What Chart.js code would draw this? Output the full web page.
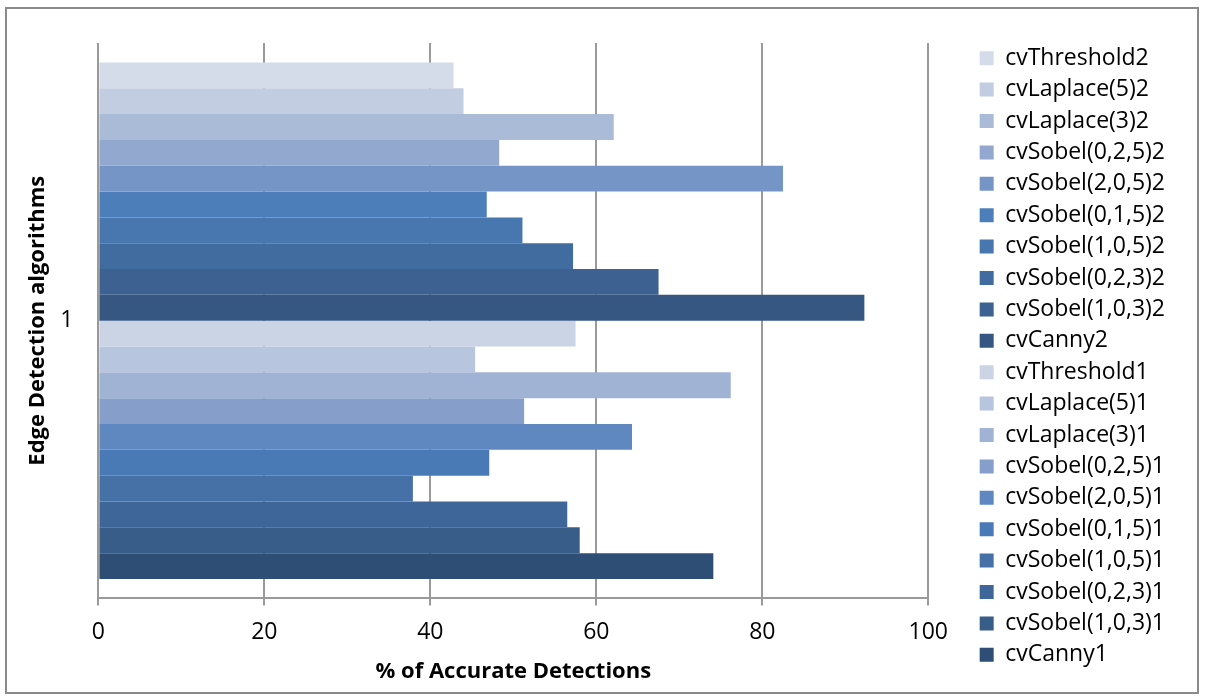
<!DOCTYPE html>
<html>
<head>
<meta charset="utf-8">
<script src="https://cdn.jsdelivr.net/npm/chart.js@4"></script>
<style>
  html, body { margin: 0; padding: 0; background: #fff; }
  #wrap { width: 1205px; height: 700px; }
</style>
</head>
<body>
<div id="wrap"><canvas id="chart" width="1205" height="700"></canvas></div>
<script>
const categories = ['1'];

const seriesNames = [
  'cvThreshold2', 'cvLaplace(5)2', 'cvLaplace(3)2', 'cvSobel(0,2,5)2', 'cvSobel(2,0,5)2',
  'cvSobel(0,1,5)2', 'cvSobel(1,0,5)2', 'cvSobel(0,2,3)2', 'cvSobel(1,0,3)2', 'cvCanny2',
  'cvThreshold1', 'cvLaplace(5)1', 'cvLaplace(3)1', 'cvSobel(0,2,5)1', 'cvSobel(2,0,5)1',
  'cvSobel(0,1,5)1', 'cvSobel(1,0,5)1', 'cvSobel(0,2,3)1', 'cvSobel(1,0,3)1', 'cvCanny1',
];

const seriesValues = [
  42.8, 44.0, 62.1, 48.3, 82.5,
  46.8, 51.1, 57.2, 67.5, 92.3,
  57.5, 45.4, 76.2, 51.3, 64.3,
  47.1, 37.9, 56.5, 58.0, 74.1,
];

const xTicks = [0, 20, 40, 60, 80, 100];

const seriesColors = [
  '#d5dce9', '#c2cde1', '#aabbd8', '#92a8cf', '#7595c6',
  '#4c7fba', '#4877b0', '#416ca0', '#3d6190', '#355781',
  '#cad4e5', '#b7c5df', '#a0b3d5', '#859fca', '#5e88bf',
  '#4a7ab5', '#4571a6', '#3e6698', '#385d89', '#2f4e76',
];

const gridGray = '#9a9a9a';
const legendShift = { x: 43, y: -9 };

Chart.defaults.font.family = '"Open Sans", sans-serif';
Chart.defaults.color = '#000';

// frame round the whole picture
const framePlugin = {
  id: 'frame',
  beforeDraw(chart) {
    const ctx = chart.ctx;
    ctx.save();
    ctx.fillStyle = '#fff';
    ctx.fillRect(0, 0, chart.width, chart.height);
    ctx.strokeStyle = '#8a8a8a';
    ctx.lineWidth = 2;
    ctx.strokeRect(6, 8, 1192, 685);
    ctx.restore();
  },
};

// leave a gap between the plot and the legend
const legendGapPlugin = {
  id: 'legendGap',
  afterInit(chart) {
    const legend = chart.legend;
    const fit = legend.fit;
    legend.fit = function () {
      fit.call(this);
      this.width += legendShift.x;
    };
    const draw = legend.draw;
    legend.draw = function () {
      const ctx = this.ctx;
      ctx.save();
      ctx.translate(legendShift.x, legendShift.y);
      draw.apply(this, arguments);
      ctx.restore();
    };
  },
};

const datasets = seriesNames.map((name, i) => ({
  label: name,
  data: [seriesValues[i]],
  backgroundColor: seriesColors[i],
  borderColor: seriesColors[i],
  borderWidth: 0,
  barPercentage: 1,
  categoryPercentage: 0.93,
}));

new Chart(document.getElementById('chart'), {
  type: 'bar',
  data: { labels: categories, datasets: datasets },
  plugins: [framePlugin, legendGapPlugin],
  options: {
    indexAxis: 'y',
    responsive: false,
    animation: false,
    layout: { padding: { top: 43, left: 8, right: 30, bottom: 12 } },
    plugins: {
      tooltip: { enabled: false },
      legend: {
        position: 'right',
        align: 'center',
        labels: {
          boxWidth: 14,
          boxHeight: 14,
          padding: 8.4,
          color: '#000',
          font: { size: 23 },
        },
      },
    },
    scales: {
      x: {
        min: 0,
        max: 100,
        afterBuildTicks(scale) {
          scale.ticks = xTicks.map(v => ({ value: v }));
        },
        grid: {
          color: gridGray,
          lineWidth: 2,
          drawTicks: true,
          tickLength: 7,
          tickColor: gridGray,
        },
        border: { display: true, color: gridGray, width: 2 },
        ticks: { font: { size: 23 }, padding: 13, color: '#000' },
        title: {
          display: true,
          text: '% of Accurate Detections',
          font: { size: 22, weight: 'bold' },
          padding: { top: 0, bottom: 2.6 },
          color: '#000',
        },
      },
      y: {
        grid: { display: false, drawTicks: false },
        border: { display: false },
        ticks: { font: { size: 23 }, padding: 25, color: '#000' },
        title: {
          display: true,
          text: 'Edge Detection algorithms',
          font: { size: 22, weight: 'bold' },
          padding: { top: 16.8, bottom: -16 },
          color: '#000',
        },
      },
    },
  },
});
</script>
</body>
</html>
